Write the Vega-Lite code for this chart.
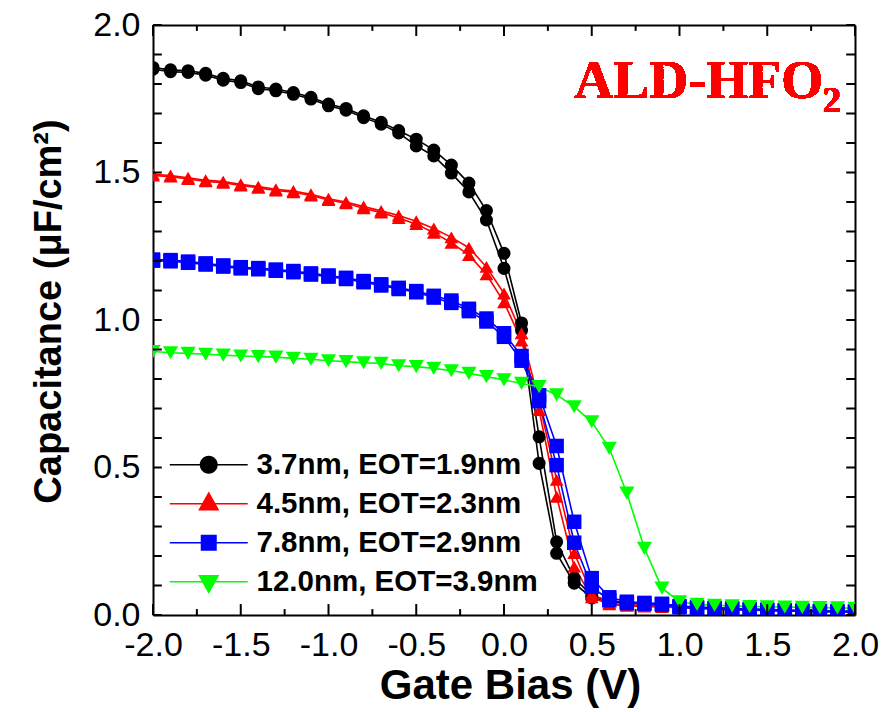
{
"$schema": "https://vega.github.io/schema/vega-lite/v6.json",
"width": 702, "height": 590,
"autosize": {"type": "none"},
"padding": {"left": 153, "top": 25, "right": 39, "bottom": 97},
"background": "white",
"config": {
  "view": {"stroke": null},
  "axis": {"grid": false, "domainColor": "#000000", "domainWidth": 2,
    "labelFont": "Liberation Sans", "labelFontSize": 34, "labelColor": "#000000",
    "titleFont": "Liberation Sans", "titleFontWeight": "bold", "titleColor": "#000000"}
},
"datasets": {"cv": [
{"s":"3.7nm, EOT=1.9nm","w":"a","v":-2,"c":1.856},{"s":"3.7nm, EOT=1.9nm","w":"a","v":-1.9,"c":1.848},{"s":"3.7nm, EOT=1.9nm","w":"a","v":-1.8,"c":1.845},{"s":"3.7nm, EOT=1.9nm","w":"a","v":-1.7,"c":1.836},{"s":"3.7nm, EOT=1.9nm","w":"a","v":-1.6,"c":1.819},{"s":"3.7nm, EOT=1.9nm","w":"a","v":-1.5,"c":1.811},{"s":"3.7nm, EOT=1.9nm","w":"a","v":-1.4,"c":1.79},{"s":"3.7nm, EOT=1.9nm","w":"a","v":-1.3,"c":1.783},{"s":"3.7nm, EOT=1.9nm","w":"a","v":-1.2,"c":1.771},{"s":"3.7nm, EOT=1.9nm","w":"a","v":-1.1,"c":1.755},{"s":"3.7nm, EOT=1.9nm","w":"a","v":-1,"c":1.732},{"s":"3.7nm, EOT=1.9nm","w":"a","v":-0.9,"c":1.717},{"s":"3.7nm, EOT=1.9nm","w":"a","v":-0.8,"c":1.692},{"s":"3.7nm, EOT=1.9nm","w":"a","v":-0.7,"c":1.67},{"s":"3.7nm, EOT=1.9nm","w":"a","v":-0.6,"c":1.642},{"s":"3.7nm, EOT=1.9nm","w":"a","v":-0.5,"c":1.613},{"s":"3.7nm, EOT=1.9nm","w":"a","v":-0.4,"c":1.576},{"s":"3.7nm, EOT=1.9nm","w":"a","v":-0.3,"c":1.525},{"s":"3.7nm, EOT=1.9nm","w":"a","v":-0.2,"c":1.464},{"s":"3.7nm, EOT=1.9nm","w":"a","v":-0.1,"c":1.371},{"s":"3.7nm, EOT=1.9nm","w":"a","v":0,"c":1.226},{"s":"3.7nm, EOT=1.9nm","w":"a","v":0.1,"c":0.99},{"s":"3.7nm, EOT=1.9nm","w":"a","v":0.2,"c":0.604},{"s":"3.7nm, EOT=1.9nm","w":"a","v":0.3,"c":0.248},{"s":"3.7nm, EOT=1.9nm","w":"a","v":0.4,"c":0.125},{"s":"3.7nm, EOT=1.9nm","w":"a","v":0.5,"c":0.066},{"s":"3.7nm, EOT=1.9nm","w":"a","v":0.6,"c":0.048},{"s":"3.7nm, EOT=1.9nm","w":"a","v":0.7,"c":0.043},{"s":"3.7nm, EOT=1.9nm","w":"a","v":0.8,"c":0.04},{"s":"3.7nm, EOT=1.9nm","w":"a","v":0.9,"c":0.037},{"s":"3.7nm, EOT=1.9nm","w":"a","v":1,"c":0.03},{"s":"3.7nm, EOT=1.9nm","w":"a","v":1.1,"c":0.026},{"s":"3.7nm, EOT=1.9nm","w":"a","v":1.2,"c":0.024},{"s":"3.7nm, EOT=1.9nm","w":"a","v":1.3,"c":0.022},{"s":"3.7nm, EOT=1.9nm","w":"a","v":1.4,"c":0.02},{"s":"3.7nm, EOT=1.9nm","w":"a","v":1.5,"c":0.018},{"s":"3.7nm, EOT=1.9nm","w":"a","v":1.6,"c":0.016},{"s":"3.7nm, EOT=1.9nm","w":"a","v":1.7,"c":0.015},{"s":"3.7nm, EOT=1.9nm","w":"a","v":1.8,"c":0.014},{"s":"3.7nm, EOT=1.9nm","w":"a","v":1.9,"c":0.013},{"s":"3.7nm, EOT=1.9nm","w":"a","v":2,"c":0.012},
{"s":"3.7nm, EOT=1.9nm","w":"b","v":-2,"c":1.85},{"s":"3.7nm, EOT=1.9nm","w":"b","v":-1.9,"c":1.842},{"s":"3.7nm, EOT=1.9nm","w":"b","v":-1.8,"c":1.839},{"s":"3.7nm, EOT=1.9nm","w":"b","v":-1.7,"c":1.83},{"s":"3.7nm, EOT=1.9nm","w":"b","v":-1.6,"c":1.813},{"s":"3.7nm, EOT=1.9nm","w":"b","v":-1.5,"c":1.805},{"s":"3.7nm, EOT=1.9nm","w":"b","v":-1.4,"c":1.784},{"s":"3.7nm, EOT=1.9nm","w":"b","v":-1.3,"c":1.777},{"s":"3.7nm, EOT=1.9nm","w":"b","v":-1.2,"c":1.765},{"s":"3.7nm, EOT=1.9nm","w":"b","v":-1.1,"c":1.749},{"s":"3.7nm, EOT=1.9nm","w":"b","v":-1,"c":1.726},{"s":"3.7nm, EOT=1.9nm","w":"b","v":-0.9,"c":1.711},{"s":"3.7nm, EOT=1.9nm","w":"b","v":-0.8,"c":1.686},{"s":"3.7nm, EOT=1.9nm","w":"b","v":-0.7,"c":1.664},{"s":"3.7nm, EOT=1.9nm","w":"b","v":-0.6,"c":1.634},{"s":"3.7nm, EOT=1.9nm","w":"b","v":-0.5,"c":1.59},{"s":"3.7nm, EOT=1.9nm","w":"b","v":-0.4,"c":1.556},{"s":"3.7nm, EOT=1.9nm","w":"b","v":-0.3,"c":1.498},{"s":"3.7nm, EOT=1.9nm","w":"b","v":-0.2,"c":1.434},{"s":"3.7nm, EOT=1.9nm","w":"b","v":-0.1,"c":1.339},{"s":"3.7nm, EOT=1.9nm","w":"b","v":0,"c":1.175},{"s":"3.7nm, EOT=1.9nm","w":"b","v":0.1,"c":0.965},{"s":"3.7nm, EOT=1.9nm","w":"b","v":0.2,"c":0.514},{"s":"3.7nm, EOT=1.9nm","w":"b","v":0.3,"c":0.209},{"s":"3.7nm, EOT=1.9nm","w":"b","v":0.4,"c":0.108},{"s":"3.7nm, EOT=1.9nm","w":"b","v":0.5,"c":0.058},{"s":"3.7nm, EOT=1.9nm","w":"b","v":0.6,"c":0.044},{"s":"3.7nm, EOT=1.9nm","w":"b","v":0.7,"c":0.04},{"s":"3.7nm, EOT=1.9nm","w":"b","v":0.8,"c":0.037},{"s":"3.7nm, EOT=1.9nm","w":"b","v":0.9,"c":0.034},{"s":"3.7nm, EOT=1.9nm","w":"b","v":1,"c":0.028},{"s":"3.7nm, EOT=1.9nm","w":"b","v":1.1,"c":0.024},{"s":"3.7nm, EOT=1.9nm","w":"b","v":1.2,"c":0.022},{"s":"3.7nm, EOT=1.9nm","w":"b","v":1.3,"c":0.02},{"s":"3.7nm, EOT=1.9nm","w":"b","v":1.4,"c":0.018},{"s":"3.7nm, EOT=1.9nm","w":"b","v":1.5,"c":0.016},{"s":"3.7nm, EOT=1.9nm","w":"b","v":1.6,"c":0.014},{"s":"3.7nm, EOT=1.9nm","w":"b","v":1.7,"c":0.013},{"s":"3.7nm, EOT=1.9nm","w":"b","v":1.8,"c":0.012},{"s":"3.7nm, EOT=1.9nm","w":"b","v":1.9,"c":0.011},{"s":"3.7nm, EOT=1.9nm","w":"b","v":2,"c":0.01},
{"s":"4.5nm, EOT=2.3nm","w":"a","v":-2,"c":1.494},{"s":"4.5nm, EOT=2.3nm","w":"a","v":-1.9,"c":1.49},{"s":"4.5nm, EOT=2.3nm","w":"a","v":-1.8,"c":1.482},{"s":"4.5nm, EOT=2.3nm","w":"a","v":-1.7,"c":1.474},{"s":"4.5nm, EOT=2.3nm","w":"a","v":-1.6,"c":1.469},{"s":"4.5nm, EOT=2.3nm","w":"a","v":-1.5,"c":1.46},{"s":"4.5nm, EOT=2.3nm","w":"a","v":-1.4,"c":1.452},{"s":"4.5nm, EOT=2.3nm","w":"a","v":-1.3,"c":1.443},{"s":"4.5nm, EOT=2.3nm","w":"a","v":-1.2,"c":1.437},{"s":"4.5nm, EOT=2.3nm","w":"a","v":-1.1,"c":1.426},{"s":"4.5nm, EOT=2.3nm","w":"a","v":-1,"c":1.411},{"s":"4.5nm, EOT=2.3nm","w":"a","v":-0.9,"c":1.4},{"s":"4.5nm, EOT=2.3nm","w":"a","v":-0.8,"c":1.385},{"s":"4.5nm, EOT=2.3nm","w":"a","v":-0.7,"c":1.37},{"s":"4.5nm, EOT=2.3nm","w":"a","v":-0.6,"c":1.354},{"s":"4.5nm, EOT=2.3nm","w":"a","v":-0.5,"c":1.335},{"s":"4.5nm, EOT=2.3nm","w":"a","v":-0.4,"c":1.31},{"s":"4.5nm, EOT=2.3nm","w":"a","v":-0.3,"c":1.28},{"s":"4.5nm, EOT=2.3nm","w":"a","v":-0.2,"c":1.245},{"s":"4.5nm, EOT=2.3nm","w":"a","v":-0.1,"c":1.18},{"s":"4.5nm, EOT=2.3nm","w":"a","v":0,"c":1.09},{"s":"4.5nm, EOT=2.3nm","w":"a","v":0.1,"c":0.955},{"s":"4.5nm, EOT=2.3nm","w":"a","v":0.2,"c":0.723},{"s":"4.5nm, EOT=2.3nm","w":"a","v":0.3,"c":0.458},{"s":"4.5nm, EOT=2.3nm","w":"a","v":0.4,"c":0.21},{"s":"4.5nm, EOT=2.3nm","w":"a","v":0.5,"c":0.072},{"s":"4.5nm, EOT=2.3nm","w":"a","v":0.6,"c":0.04},{"s":"4.5nm, EOT=2.3nm","w":"a","v":0.7,"c":0.034},{"s":"4.5nm, EOT=2.3nm","w":"a","v":0.8,"c":0.032},{"s":"4.5nm, EOT=2.3nm","w":"a","v":0.9,"c":0.03},{"s":"4.5nm, EOT=2.3nm","w":"a","v":1,"c":0.027},{"s":"4.5nm, EOT=2.3nm","w":"a","v":1.1,"c":0.024},{"s":"4.5nm, EOT=2.3nm","w":"a","v":1.2,"c":0.022},{"s":"4.5nm, EOT=2.3nm","w":"a","v":1.3,"c":0.02},{"s":"4.5nm, EOT=2.3nm","w":"a","v":1.4,"c":0.018},{"s":"4.5nm, EOT=2.3nm","w":"a","v":1.5,"c":0.016},{"s":"4.5nm, EOT=2.3nm","w":"a","v":1.6,"c":0.015},{"s":"4.5nm, EOT=2.3nm","w":"a","v":1.7,"c":0.014},{"s":"4.5nm, EOT=2.3nm","w":"a","v":1.8,"c":0.013},{"s":"4.5nm, EOT=2.3nm","w":"a","v":1.9,"c":0.012},{"s":"4.5nm, EOT=2.3nm","w":"a","v":2,"c":0.011},
{"s":"4.5nm, EOT=2.3nm","w":"b","v":-2,"c":1.49},{"s":"4.5nm, EOT=2.3nm","w":"b","v":-1.9,"c":1.486},{"s":"4.5nm, EOT=2.3nm","w":"b","v":-1.8,"c":1.478},{"s":"4.5nm, EOT=2.3nm","w":"b","v":-1.7,"c":1.47},{"s":"4.5nm, EOT=2.3nm","w":"b","v":-1.6,"c":1.465},{"s":"4.5nm, EOT=2.3nm","w":"b","v":-1.5,"c":1.456},{"s":"4.5nm, EOT=2.3nm","w":"b","v":-1.4,"c":1.448},{"s":"4.5nm, EOT=2.3nm","w":"b","v":-1.3,"c":1.439},{"s":"4.5nm, EOT=2.3nm","w":"b","v":-1.2,"c":1.433},{"s":"4.5nm, EOT=2.3nm","w":"b","v":-1.1,"c":1.422},{"s":"4.5nm, EOT=2.3nm","w":"b","v":-1,"c":1.407},{"s":"4.5nm, EOT=2.3nm","w":"b","v":-0.9,"c":1.396},{"s":"4.5nm, EOT=2.3nm","w":"b","v":-0.8,"c":1.379},{"s":"4.5nm, EOT=2.3nm","w":"b","v":-0.7,"c":1.364},{"s":"4.5nm, EOT=2.3nm","w":"b","v":-0.6,"c":1.346},{"s":"4.5nm, EOT=2.3nm","w":"b","v":-0.5,"c":1.325},{"s":"4.5nm, EOT=2.3nm","w":"b","v":-0.4,"c":1.296},{"s":"4.5nm, EOT=2.3nm","w":"b","v":-0.3,"c":1.262},{"s":"4.5nm, EOT=2.3nm","w":"b","v":-0.2,"c":1.22},{"s":"4.5nm, EOT=2.3nm","w":"b","v":-0.1,"c":1.155},{"s":"4.5nm, EOT=2.3nm","w":"b","v":0,"c":1.06},{"s":"4.5nm, EOT=2.3nm","w":"b","v":0.1,"c":0.93},{"s":"4.5nm, EOT=2.3nm","w":"b","v":0.2,"c":0.695},{"s":"4.5nm, EOT=2.3nm","w":"b","v":0.3,"c":0.401},{"s":"4.5nm, EOT=2.3nm","w":"b","v":0.4,"c":0.164},{"s":"4.5nm, EOT=2.3nm","w":"b","v":0.5,"c":0.06},{"s":"4.5nm, EOT=2.3nm","w":"b","v":0.6,"c":0.036},{"s":"4.5nm, EOT=2.3nm","w":"b","v":0.7,"c":0.031},{"s":"4.5nm, EOT=2.3nm","w":"b","v":0.8,"c":0.029},{"s":"4.5nm, EOT=2.3nm","w":"b","v":0.9,"c":0.027},{"s":"4.5nm, EOT=2.3nm","w":"b","v":1,"c":0.025},{"s":"4.5nm, EOT=2.3nm","w":"b","v":1.1,"c":0.022},{"s":"4.5nm, EOT=2.3nm","w":"b","v":1.2,"c":0.02},{"s":"4.5nm, EOT=2.3nm","w":"b","v":1.3,"c":0.018},{"s":"4.5nm, EOT=2.3nm","w":"b","v":1.4,"c":0.016},{"s":"4.5nm, EOT=2.3nm","w":"b","v":1.5,"c":0.015},{"s":"4.5nm, EOT=2.3nm","w":"b","v":1.6,"c":0.014},{"s":"4.5nm, EOT=2.3nm","w":"b","v":1.7,"c":0.013},{"s":"4.5nm, EOT=2.3nm","w":"b","v":1.8,"c":0.012},{"s":"4.5nm, EOT=2.3nm","w":"b","v":1.9,"c":0.011},{"s":"4.5nm, EOT=2.3nm","w":"b","v":2,"c":0.01},
{"s":"7.8nm, EOT=2.9nm","w":"a","v":-2,"c":1.205},{"s":"7.8nm, EOT=2.9nm","w":"a","v":-1.9,"c":1.203},{"s":"7.8nm, EOT=2.9nm","w":"a","v":-1.8,"c":1.198},{"s":"7.8nm, EOT=2.9nm","w":"a","v":-1.7,"c":1.192},{"s":"7.8nm, EOT=2.9nm","w":"a","v":-1.6,"c":1.185},{"s":"7.8nm, EOT=2.9nm","w":"a","v":-1.5,"c":1.179},{"s":"7.8nm, EOT=2.9nm","w":"a","v":-1.4,"c":1.176},{"s":"7.8nm, EOT=2.9nm","w":"a","v":-1.3,"c":1.171},{"s":"7.8nm, EOT=2.9nm","w":"a","v":-1.2,"c":1.166},{"s":"7.8nm, EOT=2.9nm","w":"a","v":-1.1,"c":1.158},{"s":"7.8nm, EOT=2.9nm","w":"a","v":-1,"c":1.151},{"s":"7.8nm, EOT=2.9nm","w":"a","v":-0.9,"c":1.143},{"s":"7.8nm, EOT=2.9nm","w":"a","v":-0.8,"c":1.132},{"s":"7.8nm, EOT=2.9nm","w":"a","v":-0.7,"c":1.121},{"s":"7.8nm, EOT=2.9nm","w":"a","v":-0.6,"c":1.109},{"s":"7.8nm, EOT=2.9nm","w":"a","v":-0.5,"c":1.098},{"s":"7.8nm, EOT=2.9nm","w":"a","v":-0.4,"c":1.082},{"s":"7.8nm, EOT=2.9nm","w":"a","v":-0.3,"c":1.066},{"s":"7.8nm, EOT=2.9nm","w":"a","v":-0.2,"c":1.038},{"s":"7.8nm, EOT=2.9nm","w":"a","v":-0.1,"c":1.005},{"s":"7.8nm, EOT=2.9nm","w":"a","v":0,"c":0.955},{"s":"7.8nm, EOT=2.9nm","w":"a","v":0.1,"c":0.878},{"s":"7.8nm, EOT=2.9nm","w":"a","v":0.2,"c":0.745},{"s":"7.8nm, EOT=2.9nm","w":"a","v":0.3,"c":0.573},{"s":"7.8nm, EOT=2.9nm","w":"a","v":0.4,"c":0.316},{"s":"7.8nm, EOT=2.9nm","w":"a","v":0.5,"c":0.125},{"s":"7.8nm, EOT=2.9nm","w":"a","v":0.6,"c":0.06},{"s":"7.8nm, EOT=2.9nm","w":"a","v":0.7,"c":0.045},{"s":"7.8nm, EOT=2.9nm","w":"a","v":0.8,"c":0.041},{"s":"7.8nm, EOT=2.9nm","w":"a","v":0.9,"c":0.038},{"s":"7.8nm, EOT=2.9nm","w":"a","v":1,"c":0.03},{"s":"7.8nm, EOT=2.9nm","w":"a","v":1.1,"c":0.026},{"s":"7.8nm, EOT=2.9nm","w":"a","v":1.2,"c":0.024},{"s":"7.8nm, EOT=2.9nm","w":"a","v":1.3,"c":0.022},{"s":"7.8nm, EOT=2.9nm","w":"a","v":1.4,"c":0.02},{"s":"7.8nm, EOT=2.9nm","w":"a","v":1.5,"c":0.018},{"s":"7.8nm, EOT=2.9nm","w":"a","v":1.6,"c":0.016},{"s":"7.8nm, EOT=2.9nm","w":"a","v":1.7,"c":0.015},{"s":"7.8nm, EOT=2.9nm","w":"a","v":1.8,"c":0.014},{"s":"7.8nm, EOT=2.9nm","w":"a","v":1.9,"c":0.013},{"s":"7.8nm, EOT=2.9nm","w":"a","v":2,"c":0.012},
{"s":"7.8nm, EOT=2.9nm","w":"b","v":-2,"c":1.201},{"s":"7.8nm, EOT=2.9nm","w":"b","v":-1.9,"c":1.199},{"s":"7.8nm, EOT=2.9nm","w":"b","v":-1.8,"c":1.194},{"s":"7.8nm, EOT=2.9nm","w":"b","v":-1.7,"c":1.188},{"s":"7.8nm, EOT=2.9nm","w":"b","v":-1.6,"c":1.181},{"s":"7.8nm, EOT=2.9nm","w":"b","v":-1.5,"c":1.175},{"s":"7.8nm, EOT=2.9nm","w":"b","v":-1.4,"c":1.172},{"s":"7.8nm, EOT=2.9nm","w":"b","v":-1.3,"c":1.167},{"s":"7.8nm, EOT=2.9nm","w":"b","v":-1.2,"c":1.162},{"s":"7.8nm, EOT=2.9nm","w":"b","v":-1.1,"c":1.154},{"s":"7.8nm, EOT=2.9nm","w":"b","v":-1,"c":1.147},{"s":"7.8nm, EOT=2.9nm","w":"b","v":-0.9,"c":1.139},{"s":"7.8nm, EOT=2.9nm","w":"b","v":-0.8,"c":1.128},{"s":"7.8nm, EOT=2.9nm","w":"b","v":-0.7,"c":1.117},{"s":"7.8nm, EOT=2.9nm","w":"b","v":-0.6,"c":1.105},{"s":"7.8nm, EOT=2.9nm","w":"b","v":-0.5,"c":1.094},{"s":"7.8nm, EOT=2.9nm","w":"b","v":-0.4,"c":1.076},{"s":"7.8nm, EOT=2.9nm","w":"b","v":-0.3,"c":1.058},{"s":"7.8nm, EOT=2.9nm","w":"b","v":-0.2,"c":1.03},{"s":"7.8nm, EOT=2.9nm","w":"b","v":-0.1,"c":0.995},{"s":"7.8nm, EOT=2.9nm","w":"b","v":0,"c":0.943},{"s":"7.8nm, EOT=2.9nm","w":"b","v":0.1,"c":0.862},{"s":"7.8nm, EOT=2.9nm","w":"b","v":0.2,"c":0.725},{"s":"7.8nm, EOT=2.9nm","w":"b","v":0.3,"c":0.508},{"s":"7.8nm, EOT=2.9nm","w":"b","v":0.4,"c":0.245},{"s":"7.8nm, EOT=2.9nm","w":"b","v":0.5,"c":0.096},{"s":"7.8nm, EOT=2.9nm","w":"b","v":0.6,"c":0.05},{"s":"7.8nm, EOT=2.9nm","w":"b","v":0.7,"c":0.04},{"s":"7.8nm, EOT=2.9nm","w":"b","v":0.8,"c":0.038},{"s":"7.8nm, EOT=2.9nm","w":"b","v":0.9,"c":0.035},{"s":"7.8nm, EOT=2.9nm","w":"b","v":1,"c":0.026},{"s":"7.8nm, EOT=2.9nm","w":"b","v":1.1,"c":0.023},{"s":"7.8nm, EOT=2.9nm","w":"b","v":1.2,"c":0.021},{"s":"7.8nm, EOT=2.9nm","w":"b","v":1.3,"c":0.019},{"s":"7.8nm, EOT=2.9nm","w":"b","v":1.4,"c":0.017},{"s":"7.8nm, EOT=2.9nm","w":"b","v":1.5,"c":0.016},{"s":"7.8nm, EOT=2.9nm","w":"b","v":1.6,"c":0.014},{"s":"7.8nm, EOT=2.9nm","w":"b","v":1.7,"c":0.013},{"s":"7.8nm, EOT=2.9nm","w":"b","v":1.8,"c":0.012},{"s":"7.8nm, EOT=2.9nm","w":"b","v":1.9,"c":0.011},{"s":"7.8nm, EOT=2.9nm","w":"b","v":2,"c":0.01},
{"s":"12.0nm, EOT=3.9nm","w":"a","v":-2,"c":0.893},{"s":"12.0nm, EOT=3.9nm","w":"a","v":-1.9,"c":0.889},{"s":"12.0nm, EOT=3.9nm","w":"a","v":-1.8,"c":0.887},{"s":"12.0nm, EOT=3.9nm","w":"a","v":-1.7,"c":0.884},{"s":"12.0nm, EOT=3.9nm","w":"a","v":-1.6,"c":0.881},{"s":"12.0nm, EOT=3.9nm","w":"a","v":-1.5,"c":0.878},{"s":"12.0nm, EOT=3.9nm","w":"a","v":-1.4,"c":0.876},{"s":"12.0nm, EOT=3.9nm","w":"a","v":-1.3,"c":0.874},{"s":"12.0nm, EOT=3.9nm","w":"a","v":-1.2,"c":0.87},{"s":"12.0nm, EOT=3.9nm","w":"a","v":-1.1,"c":0.867},{"s":"12.0nm, EOT=3.9nm","w":"a","v":-1,"c":0.862},{"s":"12.0nm, EOT=3.9nm","w":"a","v":-0.9,"c":0.859},{"s":"12.0nm, EOT=3.9nm","w":"a","v":-0.8,"c":0.855},{"s":"12.0nm, EOT=3.9nm","w":"a","v":-0.7,"c":0.853},{"s":"12.0nm, EOT=3.9nm","w":"a","v":-0.6,"c":0.845},{"s":"12.0nm, EOT=3.9nm","w":"a","v":-0.5,"c":0.842},{"s":"12.0nm, EOT=3.9nm","w":"a","v":-0.4,"c":0.836},{"s":"12.0nm, EOT=3.9nm","w":"a","v":-0.3,"c":0.828},{"s":"12.0nm, EOT=3.9nm","w":"a","v":-0.2,"c":0.819},{"s":"12.0nm, EOT=3.9nm","w":"a","v":-0.1,"c":0.808},{"s":"12.0nm, EOT=3.9nm","w":"a","v":0,"c":0.797},{"s":"12.0nm, EOT=3.9nm","w":"a","v":0.1,"c":0.785},{"s":"12.0nm, EOT=3.9nm","w":"a","v":0.2,"c":0.774},{"s":"12.0nm, EOT=3.9nm","w":"a","v":0.3,"c":0.746},{"s":"12.0nm, EOT=3.9nm","w":"a","v":0.4,"c":0.706},{"s":"12.0nm, EOT=3.9nm","w":"a","v":0.5,"c":0.655},{"s":"12.0nm, EOT=3.9nm","w":"a","v":0.6,"c":0.565},{"s":"12.0nm, EOT=3.9nm","w":"a","v":0.7,"c":0.413},{"s":"12.0nm, EOT=3.9nm","w":"a","v":0.8,"c":0.226},{"s":"12.0nm, EOT=3.9nm","w":"a","v":0.9,"c":0.091},{"s":"12.0nm, EOT=3.9nm","w":"a","v":1,"c":0.045},{"s":"12.0nm, EOT=3.9nm","w":"a","v":1.1,"c":0.036},{"s":"12.0nm, EOT=3.9nm","w":"a","v":1.2,"c":0.033},{"s":"12.0nm, EOT=3.9nm","w":"a","v":1.3,"c":0.031},{"s":"12.0nm, EOT=3.9nm","w":"a","v":1.4,"c":0.029},{"s":"12.0nm, EOT=3.9nm","w":"a","v":1.5,"c":0.028},{"s":"12.0nm, EOT=3.9nm","w":"a","v":1.6,"c":0.027},{"s":"12.0nm, EOT=3.9nm","w":"a","v":1.7,"c":0.026},{"s":"12.0nm, EOT=3.9nm","w":"a","v":1.8,"c":0.025},{"s":"12.0nm, EOT=3.9nm","w":"a","v":1.9,"c":0.024},{"s":"12.0nm, EOT=3.9nm","w":"a","v":2,"c":0.023}
]},
"data": {"name": "cv"},
"layer": [
  {
    "mark": {"type": "line", "strokeWidth": 1.6, "clip": true},
    "encoding": {
      "x": {"field": "v", "type": "quantitative",
        "scale": {"domain": [-2, 2], "nice": false, "zero": false},
        "axis": {"orient": "bottom", "values": [-2,-1.5,-1,-0.5,0,0.5,1,1.5,2],
          "ticks": false, "labelPadding": 13, "labelFlush": false, "labelOverlap": false,
          "labelExpr": "replace(format(datum.value, '.1f'), '\u2212', '-')",
          "title": "Gate Bias (V)", "titleFontSize": 42, "titlePadding": 3, "titleX": 357}},
      "y": {"field": "c", "type": "quantitative",
        "scale": {"domain": [0, 2], "nice": false, "zero": false},
        "axis": {"orient": "left", "values": [0,0.5,1,1.5,2],
          "ticks": false, "labelPadding": 13, "labelFlush": false, "labelOverlap": false,
          "format": ".1f",
          "title": "Capacitance (\u03bcF/cm\u00b2)", "titleFontSize": 38, "titlePadding": 24, "titleY": 286}},
      "color": {"field": "s", "type": "nominal",
        "scale": {"domain": ["3.7nm, EOT=1.9nm","4.5nm, EOT=2.3nm","7.8nm, EOT=2.9nm","12.0nm, EOT=3.9nm"], "range": ["#000000","#ff0000","#0000ff","#00ff00"]},
        "legend": null},
      "detail": {"field": "w"}
    }
  },
  {
    "mark": {"type": "point", "filled": true, "opacity": 1, "strokeWidth": 0, "clip": true},
    "encoding": {
      "x": {"field": "v", "type": "quantitative",
        "scale": {"domain": [-2, 2], "nice": false, "zero": false},
        "axis": {"orient": "top", "domain": true, "ticks": false, "labels": false, "title": null}},
      "y": {"field": "c", "type": "quantitative",
        "scale": {"domain": [0, 2], "nice": false, "zero": false},
        "axis": {"orient": "right", "domain": true, "ticks": false, "labels": false, "title": null}},
      "color": {"field": "s", "type": "nominal",
        "scale": {"domain": ["3.7nm, EOT=1.9nm","4.5nm, EOT=2.3nm","7.8nm, EOT=2.9nm","12.0nm, EOT=3.9nm"], "range": ["#000000","#ff0000","#0000ff","#00ff00"]},
        "legend": null},
      "shape": {"field": "s", "type": "nominal",
        "scale": {"domain": ["3.7nm, EOT=1.9nm","4.5nm, EOT=2.3nm","7.8nm, EOT=2.9nm","12.0nm, EOT=3.9nm"], "range": ["circle","triangle-up","square","triangle-down"]},
        "legend": null},
      "size": {"field": "s", "type": "ordinal",
        "scale": {"domain": ["3.7nm, EOT=1.9nm","4.5nm, EOT=2.3nm","7.8nm, EOT=2.9nm","12.0nm, EOT=3.9nm"], "range": [170, 230, 140, 230]},
        "legend": null}
    }
  },
  {
    "transform": [{"filter": "datum.v == -2 && datum.w == 'a'"}],
    "mark": {"type": "point", "filled": true, "opacity": 0, "size": 324},
    "encoding": {
      "x": {"field": "v", "type": "quantitative", "scale": {"domain": [-2, 2], "nice": false, "zero": false}, "axis": null},
      "y": {"field": "c", "type": "quantitative", "scale": {"domain": [0, 2], "nice": false, "zero": false}, "axis": null},
      "color": {"field": "s", "type": "nominal",
        "scale": {"domain": ["3.7nm, EOT=1.9nm","4.5nm, EOT=2.3nm","7.8nm, EOT=2.9nm","12.0nm, EOT=3.9nm"], "range": ["#000000","#ff0000","#0000ff","#00ff00"]},
        "legend": {"orient": "none", "legendX": 41, "legendY": 425, "title": null, "padding": 0,
          "labelFont": "Liberation Sans", "labelFontWeight": "bold", "labelFontSize": 29.5, "labelColor": "#000000",
          "labelLimit": 0, "labelOffset": 33, "rowPadding": 8, "symbolOpacity": 1, "symbolSize": 324}},
      "shape": {"field": "s", "type": "nominal",
        "scale": {"domain": ["3.7nm, EOT=1.9nm","4.5nm, EOT=2.3nm","7.8nm, EOT=2.9nm","12.0nm, EOT=3.9nm"],
          "range": [
            "M-4.33,-0.09L4.33,-0.09L4.33,0.09L-4.33,0.09Z M1,0A1,1 0 1,1 -1,0A1,1 0 1,1 1,0Z",
            "M-4.33,-0.09L4.33,-0.09L4.33,0.09L-4.33,0.09Z M0,-1.37L1.17,0.74L-1.17,0.74Z",
            "M-4.33,-0.09L4.33,-0.09L4.33,0.09L-4.33,0.09Z M-0.89,-0.89L0.89,-0.89L0.89,0.89L-0.89,0.89Z",
            "M-4.33,-0.09L4.33,-0.09L4.33,0.09L-4.33,0.09Z M0,1.37L-1.17,-0.74L1.17,-0.74Z"]},
        "legend": {"orient": "none", "legendX": 41, "legendY": 425, "title": null, "padding": 0,
          "labelFont": "Liberation Sans", "labelFontWeight": "bold", "labelFontSize": 29.5, "labelColor": "#000000",
          "labelLimit": 0, "labelOffset": 33, "rowPadding": 8, "symbolOpacity": 1, "symbolSize": 324}}
    }
  },
  {
    "mark": {"type": "text", "text": "ALD-HFO", "font": "Liberation Serif", "fontWeight": "bold", "fontSize": 54, "color": "#ff0000", "align": "left", "baseline": "alphabetic"},
    "encoding": {
      "x": {"datum": 0.4, "type": "quantitative", "scale": {"domain": [-2, 2], "nice": false, "zero": false}, "axis": null},
      "y": {"datum": 1.753, "type": "quantitative", "scale": {"domain": [0, 2], "nice": false, "zero": false}, "axis": null}
    }
  },
  {
    "mark": {"type": "text", "text": "2", "font": "Liberation Serif", "fontWeight": "bold", "fontSize": 36, "color": "#ff0000", "align": "left", "baseline": "alphabetic"},
    "encoding": {
      "x": {"datum": 1.818, "type": "quantitative", "scale": {"domain": [-2, 2], "nice": false, "zero": false}, "axis": null},
      "y": {"datum": 1.705, "type": "quantitative", "scale": {"domain": [0, 2], "nice": false, "zero": false}, "axis": null}
    }
  },
  {
    "transform": [{"filter": "datum.s == '3.7nm, EOT=1.9nm' && datum.w == 'a' && abs(round(datum.v*10)) % 5 == 0"}],
    "mark": {"type": "rule", "color": "#000000", "strokeWidth": 2},
    "encoding": {
      "x": {"field": "v", "type": "quantitative", "scale": {"domain": [-2, 2], "nice": false, "zero": false}, "axis": null},
      "y": {"datum": 0, "type": "quantitative", "scale": {"domain": [0, 2], "nice": false, "zero": false}, "axis": null},
      "y2": {"datum": 0.037}
    }
  },
  {
    "transform": [{"filter": "datum.s == '3.7nm, EOT=1.9nm' && datum.w == 'a' && abs(round(datum.v*10)) % 5 == 0"}],
    "mark": {"type": "rule", "color": "#000000", "strokeWidth": 2},
    "encoding": {
      "x": {"field": "v", "type": "quantitative", "scale": {"domain": [-2, 2], "nice": false, "zero": false}, "axis": null},
      "y": {"datum": 2, "type": "quantitative", "scale": {"domain": [0, 2], "nice": false, "zero": false}, "axis": null},
      "y2": {"datum": 1.963}
    }
  },
  {
    "transform": [{"filter": "datum.s == '3.7nm, EOT=1.9nm' && datum.w == 'a' && abs(round(datum.v*10)) % 2 == 1 && abs(datum.v) < 0.75"}],
    "mark": {"type": "rule", "color": "#000000", "strokeWidth": 2},
    "encoding": {
      "x": {"field": "v", "type": "quantitative", "scale": {"domain": [-0.8, 0.8], "nice": false, "zero": false}, "axis": null},
      "y": {"datum": 0, "type": "quantitative", "scale": {"domain": [0, 2], "nice": false, "zero": false}, "axis": null},
      "y2": {"datum": 0.02}
    }
  },
  {
    "transform": [{"filter": "datum.s == '3.7nm, EOT=1.9nm' && datum.w == 'a' && abs(round(datum.v*10)) % 2 == 1 && abs(datum.v) < 0.75"}],
    "mark": {"type": "rule", "color": "#000000", "strokeWidth": 2},
    "encoding": {
      "x": {"field": "v", "type": "quantitative", "scale": {"domain": [-0.8, 0.8], "nice": false, "zero": false}, "axis": null},
      "y": {"datum": 2, "type": "quantitative", "scale": {"domain": [0, 2], "nice": false, "zero": false}, "axis": null},
      "y2": {"datum": 1.98}
    }
  },
  {
    "transform": [{"filter": "datum.s == '3.7nm, EOT=1.9nm' && datum.w == 'a' && datum.v <= 0"}],
    "mark": {"type": "rule", "color": "#000000", "strokeWidth": 2},
    "encoding": {
      "x": {"datum": -2, "type": "quantitative", "scale": {"domain": [-2, 2], "nice": false, "zero": false}, "axis": null},
      "x2": {"datum": -1.95},
      "y": {"field": "v", "type": "quantitative", "scale": {"domain": [-2, 0], "nice": false, "zero": false}, "axis": null}
    }
  },
  {
    "transform": [{"filter": "datum.s == '3.7nm, EOT=1.9nm' && datum.w == 'a' && datum.v <= 0"}],
    "mark": {"type": "rule", "color": "#000000", "strokeWidth": 2},
    "encoding": {
      "x": {"datum": 2, "type": "quantitative", "scale": {"domain": [-2, 2], "nice": false, "zero": false}, "axis": null},
      "x2": {"datum": 1.95},
      "y": {"field": "v", "type": "quantitative", "scale": {"domain": [-2, 0], "nice": false, "zero": false}, "axis": null}
    }
  }
],
"resolve": {
  "scale": {"x": "independent", "y": "independent", "color": "independent", "shape": "independent", "size": "independent"},
  "axis": {"x": "independent", "y": "independent"}
}
}
